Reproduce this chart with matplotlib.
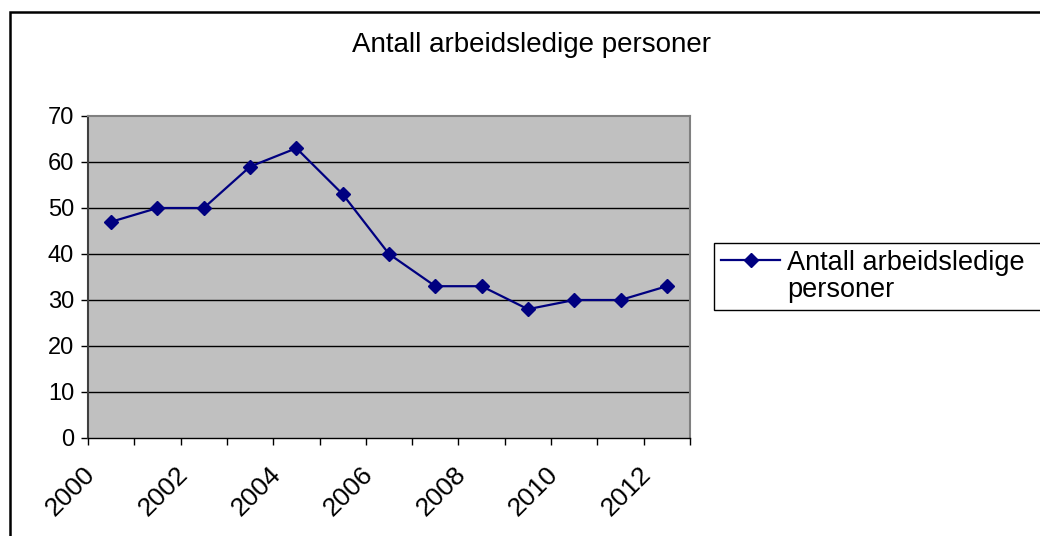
import matplotlib
matplotlib.use("Agg")
import matplotlib.pyplot as plt
from matplotlib.patches import Rectangle
from matplotlib.lines import Line2D
from matplotlib.transforms import ScaledTranslation

plt.rcParams['font.family'] = ['Liberation Sans', 'DejaVu Sans']

title = "Antall arbeidsledige personer"
series_lines = ["Antall arbeidsledige", "personer"]
years = [2000, 2001, 2002, 2003, 2004, 2005, 2006, 2007, 2008, 2009, 2010, 2011, 2012]
values = [47, 50, 50, 59, 63, 53, 40, 33, 33, 28, 30, 30, 33]
y_ticks = [0, 10, 20, 30, 40, 50, 60, 70]

W, H = 1040, 536
fig = plt.figure(figsize=(W / 100, H / 100), dpi=100)

# outer chart frame (cut off at right and bottom like the source)
fig.patches.append(Rectangle((10 / W, -0.1), 1.2, 1 - 12 / H + 0.1,
                             transform=fig.transFigure, fill=False,
                             edgecolor="black", lw=1.8))

ax = fig.add_axes([88 / W, 1 - 438 / H, (690 - 88) / W, (438 - 116) / H])
ax.set_facecolor("#c0c0c0")

# categories sit between tick marks
xs = [i + 0.5 for i in range(len(years))]
line, = ax.plot(xs, values, color="#000080", lw=1.6, marker="D", ms=7.5, zorder=3)

ax.set_xlim(0, len(years))
ax.set_ylim(0, 70)
ax.set_yticks(y_ticks)
ax.set_xticks(range(len(years) + 1))
ax.set_xticklabels([str(years[i]) if i % 2 == 0 and i < len(years) else "" for i in range(len(years) + 1)],
                   rotation=45, ha="right", rotation_mode="anchor")
ax.tick_params(axis="both", length=5, width=1, color="black")
ax.tick_params(axis="y", labelsize=17, pad=5)
ax.tick_params(axis="x", labelsize=19, pad=12)
shift = ScaledTranslation(-5 / 100, 0, fig.dpi_scale_trans)
for lab in ax.get_xticklabels():
    lab.set_transform(lab.get_transform() + shift)

for y in y_ticks[1:-1]:
    ax.axhline(y, color="black", lw=1, zorder=1)

for s in ["top", "right"]:
    ax.spines[s].set_color("#808080")
    ax.spines[s].set_linewidth(1.5)
ax.spines["left"].set_color("#404040")
ax.spines["left"].set_linewidth(1.5)
ax.spines["bottom"].set_color("black")
ax.spines["bottom"].set_linewidth(1)

fig.text(532 / W, 1 - 45 / H, title, ha="center", va="center", fontsize=20)

# wrapped legend label: handle sits on the first line only
blank = Line2D([], [], color="none")
leg = ax.legend([line, blank], series_lines, loc="upper left",
                bbox_to_anchor=(714 / W, 1 - 311 / H, 340 / W, 68 / H),
                bbox_transform=fig.transFigure, mode="expand", fontsize=19.5,
                frameon=True, fancybox=False, handlelength=2.2, handletextpad=0.25,
                borderpad=0.25, borderaxespad=0, labelspacing=0.05)
leg.get_frame().set_edgecolor("black")
leg.get_frame().set_linewidth(1)
leg.get_frame().set_facecolor("white")
leg.get_frame().set_alpha(1)

fig.savefig("out.png", dpi=100)
